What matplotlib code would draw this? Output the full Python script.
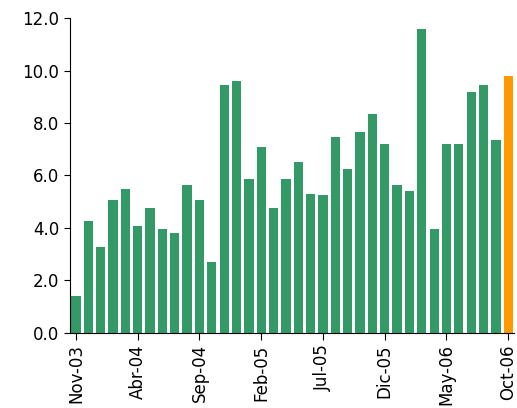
import matplotlib
matplotlib.use("Agg")
import matplotlib.pyplot as plt
import numpy as np

values = [1.4, 4.25, 3.25, 5.05, 5.5, 4.05, 4.75, 3.95, 3.8, 5.65, 5.05, 2.7,
          9.45, 9.6, 5.85, 7.1, 4.75, 5.85, 6.5, 5.3, 5.25, 7.45, 6.25, 7.65,
          8.35, 7.2, 5.65, 5.4, 11.6, 3.95, 7.2, 7.2, 9.2, 9.45, 7.35, 9.8]
tick_labels = ["Nov-03", "Abr-04", "Sep-04", "Feb-05", "Jul-05", "Dic-05", "May-06", "Oct-06"]

colors = ["#339966"] * (len(values) - 1) + ["#FF9900"]

fig = plt.figure(figsize=(5.17, 4.08), dpi=100)
ax = fig.add_axes([0.135, 0.185, 0.86, 0.77])
x = np.arange(len(values))
ax.bar(x, values, width=0.75, color=colors)
ax.set_xlim(-0.5, len(values) - 0.5)
ax.set_ylim(0, 12)
ax.set_yticks(np.arange(0, 12.1, 2))
ax.set_yticklabels([f"{v:.1f}" for v in np.arange(0, 12.1, 2)], fontsize=12)
ax.set_xticks(x[::5])
ax.set_xticklabels(tick_labels, rotation=90, fontsize=12)
ax.spines["top"].set_visible(False)
ax.spines["right"].set_visible(False)
ax.tick_params(axis="x", direction="out", length=5)
ax.tick_params(axis="y", direction="out", length=4)
fig.savefig("out.png")
